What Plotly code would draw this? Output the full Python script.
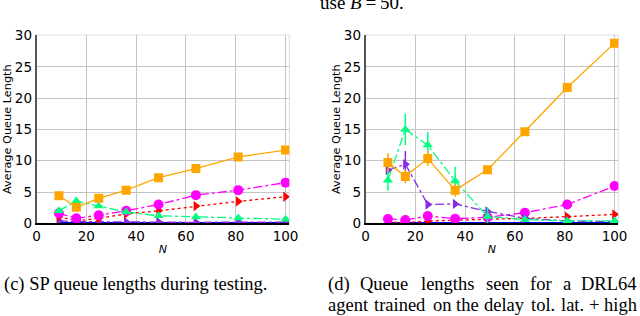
import plotly.graph_objects as go

N_VALUES = [9, 16, 25, 36, 49, 64, 81, 100]

# Left panel (c): SP queue lengths during testing
sp_orange = [4.4, 2.55, 4.0, 5.3, 7.3, 8.75, 10.6, 11.7]
sp_magenta = [1.6, 0.8, 1.3, 2.0, 3.0, 4.5, 5.3, 6.5]
sp_red = [1.05, 0.4, 0.8, 1.5, 2.0, 2.75, 3.5, 4.25]
sp_green = [2.0, 3.55, 2.75, 1.8, 1.2, 1.0, 0.85, 0.65]
sp_purple = [0.4, 0.25, 0.25, 0.2, 0.2, 0.15, 0.2, 0.2]
sp_blue = [0.03, 0.03, 0.03, 0.03, 0.03, 0.03, 0.03, 0.03]

# Right panel (d): DRL64 agent
drl_orange = [9.7, 7.5, 10.35, 5.3, 8.55, 14.65, 21.7, 28.8]
drl_orange_err = [1.5, 1.1, 1.2, 1.05, 0.6, 0.6, 0.7, 0.4]
drl_green = [6.9, 15.0, 12.5, 6.75, 1.1, 0.6, 0.37, 0.4]
drl_green_err = [1.7, 2.5, 2.1, 2.3, 1.5, 0.3, 0.2, 0.2]
drl_purple = [8.5, 9.45, 3.0, 3.1, 1.9, 0.8, 0.37, 0.27]
drl_purple_err = [0.6, 2.1, 0.3, 0.3, 0.3, 0.2, 0.1, 0.1]
drl_magenta = [0.7, 0.53, 1.17, 0.74, 0.96, 1.7, 3.0, 5.95]
drl_red = [0.2, 0.1, 0.37, 0.48, 0.7, 0.8, 1.06, 1.43]
drl_blue = [0.05, 0.05, 0.05, 0.05, 0.05, 0.05, 0.05, 0.05]

X_TICKS = [0, 20, 40, 60, 80, 100]
Y_TICKS = [0, 5, 10, 15, 20, 25, 30]

CAPTION_C = "(c) SP queue lengths during testing."
CAPTION_D1 = "(d) Queue lengths seen for a DRL64"
CAPTION_D2 = "agent trained on the delay tol. lat. + high"
TOP_TEXT = "use <i>B</i>\u2009=\u200950."

ORANGE = "#FFA500"
MAGENTA = "#FF00FF"
RED = "#FF0000"
GREEN = "#00FF7F"
PURPLE = "#8A2BE2"
BLUE = "#0000FF"

W, H = 640, 316
fig = go.Figure()


def add_series(xa, ya, y, color, symbol, dash, size, err=None, width=1.3):
    tr = dict(
        x=N_VALUES, y=y, xaxis=xa, yaxis=ya, mode="lines+markers",
        line=dict(color=color, width=width, dash=dash),
        marker=dict(color=color, symbol=symbol, size=size, line=dict(width=0)),
        showlegend=False,
    )
    if err is not None:
        tr["error_y"] = dict(type="data", array=err, visible=True, color=color,
                             thickness=1.5, width=0)
    fig.add_trace(go.Scatter(**tr))


# left panel
add_series("x", "y", sp_blue, BLUE, "circle", "solid", 3, width=2)
add_series("x", "y", sp_purple, PURPLE, "triangle-right", "dashdot", 9)
add_series("x", "y", sp_red, RED, "triangle-right", "dot", 9)
add_series("x", "y", sp_magenta, MAGENTA, "circle", "dashdot", 10)
add_series("x", "y", sp_green, GREEN, "triangle-up", "dashdot", 9)
add_series("x", "y", sp_orange, ORANGE, "square", "solid", 9)

# right panel
add_series("x2", "y2", drl_blue, BLUE, "circle", "solid", 3, width=2)
add_series("x2", "y2", drl_red, RED, "triangle-right", "dot", 9)
add_series("x2", "y2", drl_magenta, MAGENTA, "circle", "dashdot", 10)
add_series("x2", "y2", drl_purple, PURPLE, "triangle-right", "dashdot", 9, err=drl_purple_err)
add_series("x2", "y2", drl_green, GREEN, "triangle-up", "dashdot", 9, err=drl_green_err)
add_series("x2", "y2", drl_orange, ORANGE, "square", "solid", 9, err=drl_orange_err)

ydom = [(H - 223.3) / H, (H - 35) / H]
xdom1 = [36.5 / W, 289.3 / W]
xdom2 = [365.5 / W, 618.3 / W]

tickfont = dict(family="DejaVu Sans", size=13.5, color="#000000")


def xaxis(dom, anchor):
    return dict(domain=dom, anchor=anchor, range=[0, 101.5], tickvals=X_TICKS,
                showgrid=True, gridcolor="#c4c4c4", gridwidth=1,
                showline=True, linecolor="#000000", linewidth=1.5,
                ticks="", tickfont=tickfont, zeroline=False, automargin=False,
                title=dict(text="<i>N</i>", font=dict(family="DejaVu Sans", size=11, color="#000"),
                           standoff=2))


def yaxis(anchor):
    return dict(domain=ydom, anchor=anchor, range=[0, 30.1], tickvals=Y_TICKS,
                showgrid=True, gridcolor="#c4c4c4", gridwidth=1,
                showline=True, linecolor="#555555", linewidth=1.5,
                ticks="", tickfont=tickfont, zeroline=False, automargin=False,
                title=dict(text="Average Queue Length",
                           font=dict(family="DejaVu Sans", size=11.3, color="#000"),
                           standoff=1))


fig.update_layout(
    width=W, height=H, margin=dict(l=0, r=0, t=0, b=0, autoexpand=False),
    paper_bgcolor="white", plot_bgcolor="white",
    xaxis=xaxis(xdom1, "y"), yaxis=yaxis("x"),
    xaxis2=xaxis(xdom2, "y2"), yaxis2=yaxis("x2"),
)

# light top/right frame
for xd in (xdom1, xdom2):
    fig.add_shape(type="rect", xref="paper", yref="paper", x0=xd[0], x1=xd[1],
                  y0=ydom[0], y1=ydom[1], line=dict(color="#dddddd", width=1), layer="below")

serif = "Liberation Serif"
CAP_SIZE = 18.5

# approximate Times glyph widths (per em) used to justify caption lines
_TW = {" ": .25, "(": .333, ")": .333, ".": .25, "+": .564, "D": .722, "R": .667,
       "L": .611, "Q": .722, "S": .556, "P": .556, "6": .5, "4": .5,
       "f": .333, "i": .278, "l": .278, "t": .278, "r": .333, "s": .389,
       "e": .444, "a": .444, "c": .444, "y": .5, "m": .778}


def tw(word):
    return sum(_TW.get(ch, 0.5) for ch in word) * CAP_SIZE * 1.05


def ann(text, x, y, size=CAP_SIZE, xanchor="left", yanchor="middle"):
    fig.add_annotation(text=text, x=x / W, y=1 - y / H, xref="paper", yref="paper",
                       showarrow=False, xanchor=xanchor, yanchor=yanchor, borderpad=0,
                       font=dict(family=serif, size=size, color="#000"))


def justified(line, x0, x1, y):
    words = line.split(" ")
    widths = [tw(w) for w in words]
    gap = (x1 - x0 - sum(widths)) / (len(words) - 1)
    x = x0
    for w, wd in zip(words, widths):
        ann(w, x, y)
        x += wd + gap


ann(CAPTION_C, 3, 284)
justified(CAPTION_D1, 327, 638, 284)
justified(CAPTION_D2, 327, 638, 305)
ann(TOP_TEXT, 319, 2, size=19)

fig.write_html("out.html", config={"displayModeBar": False},
               post_script="document.body.style.margin='0';document.body.style.padding='0';"
                           "document.documentElement.style.overflow='hidden';")
